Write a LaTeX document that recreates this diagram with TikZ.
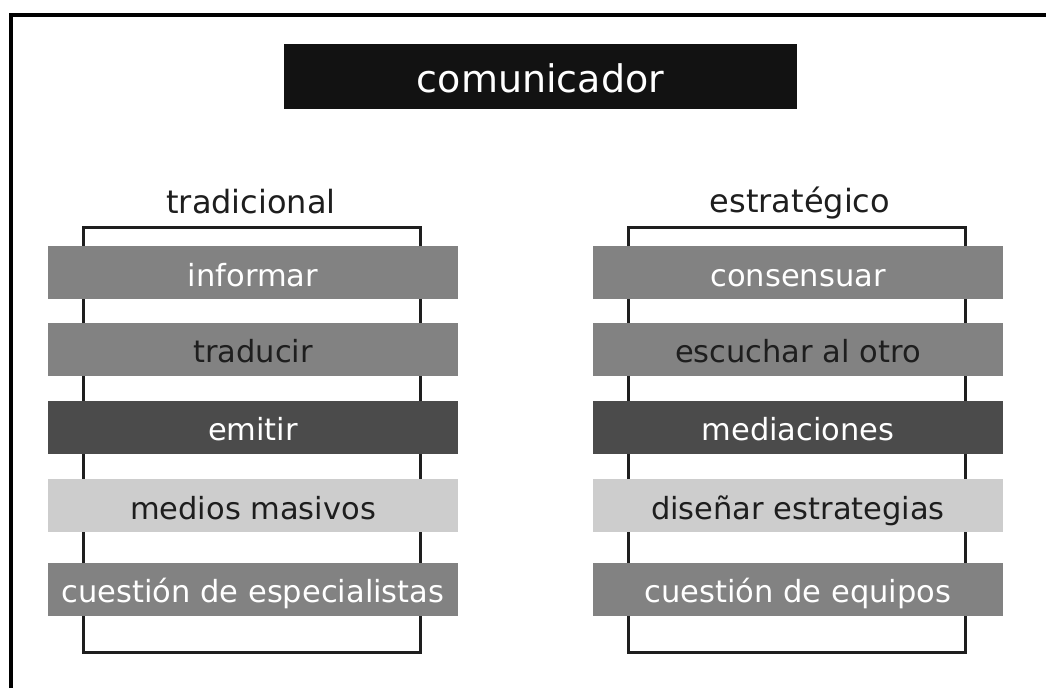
\documentclass[tikz,border=0pt]{standalone}
\usepackage{fontspec}
\setmainfont{DejaVu Sans}
\definecolor{midgray}{HTML}{828282}
\definecolor{darkgray2}{HTML}{4B4B4B}
\definecolor{lightgray2}{HTML}{CDCDCD}
\definecolor{inkdark}{HTML}{1E1E1E}
\begin{document}
\begin{tikzpicture}[x=1pt,y=-1pt,
  bar/.style={rectangle, minimum width=410pt, minimum height=53pt, inner sep=0pt,
    text height=27pt, text depth=0pt, font=\fontsize{30.5}{32}\selectfont},
  midbar/.style={bar, fill=midgray, text=white},
  midbardark/.style={bar, fill=midgray, text=inkdark},
  darkbar/.style={bar, fill=darkgray2, text=white},
  lightbar/.style={bar, fill=lightgray2, text=inkdark},
  bracketbox/.style={rectangle, draw=inkdark, line width=3pt, minimum width=337pt, minimum height=425pt, inner sep=0pt},
  header/.style={anchor=base, inner sep=0pt, text=inkdark, font=\fontsize{32}{34}\selectfont},
  titlebox/.style={rectangle, fill=black!93, text=white, minimum width=513pt, minimum height=65pt,
    inner sep=0pt, text height=31pt, text depth=0pt, font=\fontsize{38}{40}\selectfont},
  frame/.style={line width=4pt, draw=black}]
\useasboundingbox (0,0) rectangle (1046,688);
% outer frame (open to right and bottom)
\coordinate (fbl) at (11,688);
\coordinate (ftl) at (11,14.5);
\coordinate (ftr) at (1046,14.5);
\draw[frame] (fbl) -- (ftl) -- (ftr);
% title
\node[titlebox] (title) at (540.5,76.5) {comunicador};
% headers
\node[header] (htrad) at (251,213) {tradicional};
\node[header] (hestr) at (800,212) {estratégico};
% brackets
\node[bracketbox] (lbox) at (251.5,439.5) {};
\node[bracketbox] (rbox) at (797,439.5) {};
% left column
\node[midbar] (l1) at (253,272.5) {informar};
\node[midbardark] (l2) at (253,349) {traducir};
\node[darkbar] (l3) at (253,427) {emitir};
\node[lightbar] (l4) at (253,505.5) {medios masivos};
\node[midbar] (l5) at (253,589) {cuestión de especialistas};
% right column
\node[midbar] (r1) at (798,272.5) {consensuar};
\node[midbardark] (r2) at (798,349) {escuchar al otro};
\node[darkbar] (r3) at (798,427) {mediaciones};
\node[lightbar] (r4) at (798,505.5) {diseñar estrategias};
\node[midbar] (r5) at (798,589) {cuestión de equipos};
\end{tikzpicture}
\end{document}
